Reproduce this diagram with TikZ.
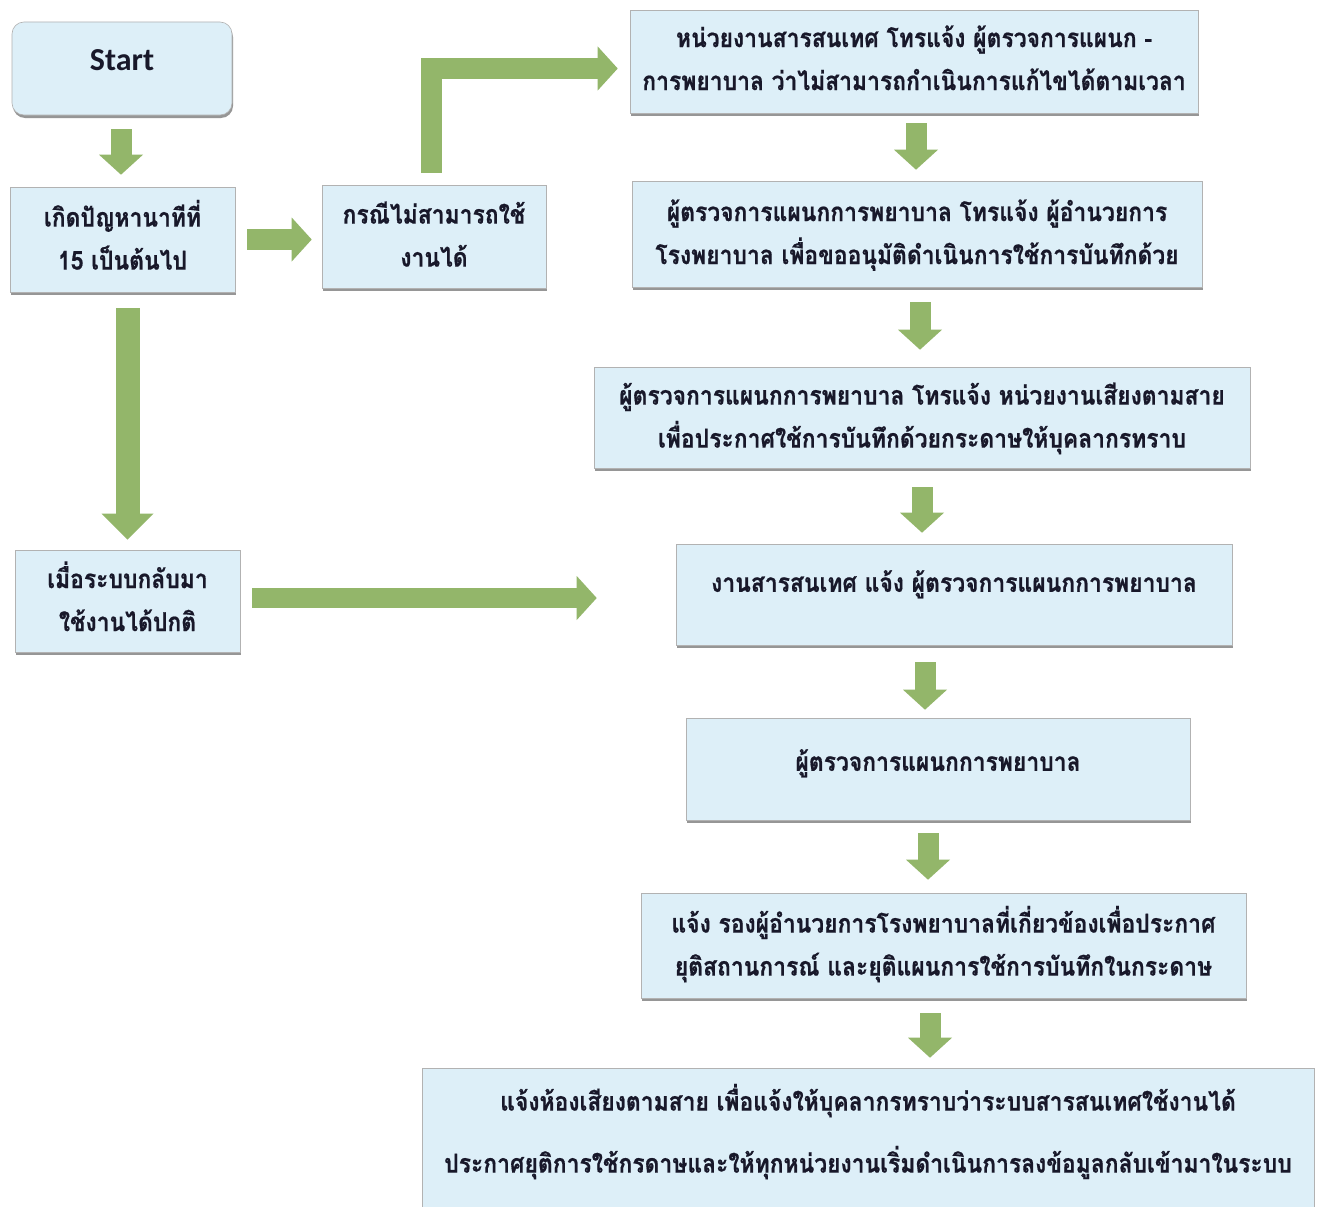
\documentclass[tikz,border=0pt]{standalone}
\usepackage{fontspec}
\setmainfont{Carlito}
\newfontfamily\thai[Script=Thai,FakeStretch=0.88,BoldFeatures={FakeBold=0.6}]{Loma}
\usetikzlibrary{arrows.meta,shadows}
\definecolor{boxfill}{HTML}{DDEFF8}
\definecolor{arrowgreen}{HTML}{93B66A}
\definecolor{txt}{HTML}{18182A}
\newcommand{\lns}[1]{\begin{tabular}{@{}c@{}}#1\end{tabular}}
\begin{document}
\begin{tikzpicture}[x=1pt,y=-1pt,
  box/.style={draw=black!30, line width=0.6pt, fill=boxfill, inner sep=0pt, text=txt,
    font=\thai\bfseries\fontsize{26}{43}\selectfont,
    drop shadow={shadow xshift=1pt, shadow yshift=-3pt, opacity=0.55, fill=black!75}},
  barrow/.style={draw=arrowgreen, line width=21pt, line join=miter,
    -{Triangle[length=20pt,width=44pt,line width=0pt]}},
]
\useasboundingbox (0,0) rectangle (1320,1207);
\fill[white] (0,0) rectangle (1320,1207);

\node[box, rounded corners=12pt, minimum width=220pt, minimum height=93pt,
  font=\bfseries\fontsize{32}{38}\selectfont] (start) at (122,68.5) {\raisebox{16pt}{Start}};
\node[box, minimum width=225pt, minimum height=105pt] (A) at (122.5,239.5) {\lns{เกิดปัญหานาทีที่\\15 เป็นต้นไป}};
\node[box, minimum width=224pt, minimum height=103pt] (B) at (434,236.5) {\lns{กรณีไม่สามารถใช้\\งานได้}};
\node[box, minimum width=225pt, minimum height=102pt] (C) at (127.5,601) {\lns{เมื่อระบบกลับมา\\ใช้งานได้ปกติ}};
\node[box, minimum width=568pt, minimum height=103pt] (R1) at (914,61.5) {\lns{หน่วยงานสารสนเทศ โทรแจ้ง ผู้ตรวจการแผนก -\\การพยาบาล ว่าไม่สามารถกำเนินการแก้ไขได้ตามเวลา\\[3pt]}};
\node[box, minimum width=570pt, minimum height=106pt] (R2) at (917,234) {\lns{ผู้ตรวจการแผนกการพยาบาล โทรแจ้ง ผู้อำนวยการ\\โรงพยาบาล เพื่อขออนุมัติดำเนินการใช้การบันทึกด้วย}};
\node[box, minimum width=656pt, minimum height=101pt] (R3) at (922,417.5) {\lns{ผู้ตรวจการแผนกการพยาบาล โทรแจ้ง หน่วยงานเสียงตามสาย\\เพื่อประกาศใช้การบันทึกด้วยกระดาษให้บุคลากรทราบ}};
\node[box, minimum width=556pt, minimum height=101pt] (R4) at (954,594.5) {\raisebox{27pt}{งานสารสนเทศ แจ้ง ผู้ตรวจการแผนกการพยาบาล}};
\node[box, minimum width=504pt, minimum height=102pt] (R5) at (938,769) {\raisebox{18pt}{ผู้ตรวจการแผนกการพยาบาล}};
\node[box, minimum width=605pt, minimum height=105pt] (R6) at (943.5,945.5) {\lns{แจ้ง รองผู้อำนวยการโรงพยาบาลที่เกี่ยวข้องเพื่อประกาศ\\ยุติสถานการณ์ และยุติแผนการใช้การบันทึกในกระดาษ}};
\node[box, minimum width=892pt, minimum height=144pt] (R7) at (868,1140) {\lns{แจ้งห้องเสียงตามสาย เพื่อแจ้งให้บุคลากรทราบว่าระบบสารสนเทศใช้งานได้\\[19pt]ประกาศยุติการใช้กรดาษและให้ทุกหน่วยงานเริ่มดำเนินการลงข้อมูลกลับเข้ามาในระบบ\\[14pt]}};

\draw[barrow, shorten <=14pt, shorten >=12pt] ([xshift=-1pt]start.south) -- ([xshift=-1.5pt]A.north);
\draw[barrow, shorten <=12pt, shorten >=10pt] (A.east) -- (A.east -| B.west);
\draw[barrow, shorten <=12pt, shorten >=12pt] ([xshift=-3pt]B.north) |- ([yshift=-7pt]R1.west);
\draw[barrow, line width=24pt, -{Triangle[length=26pt,width=52pt,line width=0pt]}, shorten <=16pt, shorten >=10pt] (A.south -| C.north) -- (C.north);
\draw[barrow, line width=20pt, shorten <=12pt, shorten >=79pt] ([yshift=3pt]C.east) -- ([yshift=3pt]C.east -| R4.west);
\draw[barrow, shorten <=10pt, shorten >=11pt] ([xshift=2pt]R1.south) -- ([xshift=-1pt]R2.north);
\draw[barrow, shorten <=15pt, shorten >=17pt] ([xshift=3pt]R2.south) -- ([xshift=-2pt]R3.north);
\draw[barrow, shorten <=19pt, shorten >=11pt] (R3.south) -- ([xshift=-32pt]R4.north);
\draw[barrow, shorten <=17pt, shorten >=8pt] ([xshift=-29pt]R4.south) -- ([xshift=-13pt]R5.north);
\draw[barrow, shorten <=13pt, shorten >=13pt] ([xshift=-10pt]R5.south) -- ([xshift=-15.5pt]R6.north);
\draw[barrow, shorten <=15pt, shorten >=10pt] ([xshift=-13.5pt]R6.south) -- ([xshift=62pt]R7.north);
\end{tikzpicture}
\end{document}
